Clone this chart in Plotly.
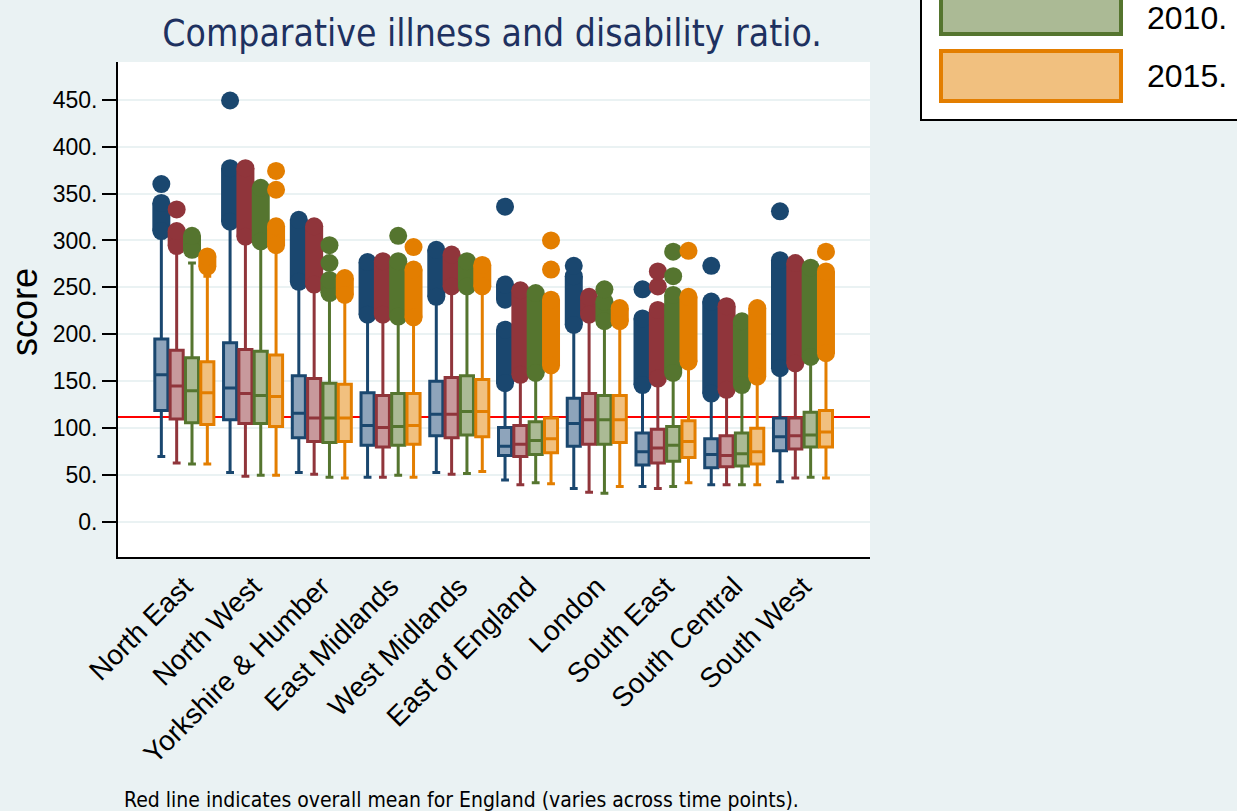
import plotly.graph_objects as go

# ---------------- data ----------------
regions = ["North East", "North West", "Yorkshire & Humber", "East Midlands",
           "West Midlands", "East of England", "London", "South East",
           "South Central", "South West"]

series_names = ["Series 1", "Series 2", "2010", "2015"]

# series 1 (navy)
s1_lower = [70, 53, 53, 48, 53, 45, 36, 38, 40, 43]
s1_q1 = [119, 109, 90, 82, 92, 71, 81, 61, 58, 76]
s1_median = [157, 143, 116, 103, 115, 81, 105, 75, 72, 91]
s1_q3 = [195, 191, 156, 138, 150, 101, 132, 95, 89, 111]
s1_upper = [303, 315, 250, 215, 235, 142, 205, 140, 132, 158]
s1_clusters = [[(310, 340)], [(320, 377)], [(256, 322)], [(221, 277)], [(240, 290)],
               [(148, 205), (237, 253)], [(210, 262)], [(146, 217)], [(137, 235)], [(164, 279)]]
s1_isolated = [[360], [449], [], [], [], [336], [273], [248], [273], [331]]

# series 2 (maroon)
s2_lower = [63, 49, 51, 48, 51, 40, 32, 36, 40, 47]
s2_q1 = [110, 105, 86, 80, 90, 70, 83, 63, 59, 78]
s2_median = [145, 137, 111, 101, 115, 83, 109, 79, 71, 92]
s2_q3 = [183, 184, 153, 135, 154, 103, 137, 99, 92, 111]
s2_upper = [288, 298, 248, 216, 246, 152, 216, 148, 136, 164]
s2_clusters = [[(294, 310)], [(304, 377)], [(253, 315)], [(221, 278)], [(251, 285)],
               [(157, 247)], [(221, 240)], [(153, 226)], [(141, 230)], [(169, 276)]]
s2_isolated = [[333], [], [], [], [], [], [], [251, 267], [], []]

# 2010 (green)
s3_lower = [62, 50, 48, 50, 52, 42, 31, 38, 40, 48]
s3_q1 = [106, 105, 85, 82, 93, 72, 83, 65, 60, 80]
s3_median = [140, 135, 111, 102, 118, 87, 109, 82, 73, 93]
s3_q3 = [175, 182, 148, 137, 156, 107, 135, 102, 95, 117]
s3_upper = [276, 294, 238, 214, 246, 154, 209, 154, 141, 171]
s3_clusters = [[(290, 305)], [(299, 356)], [(244, 258)], [(219, 278)], [(251, 278)],
               [(159, 244)], [(214, 235)], [(159, 242)], [(146, 214)], [(176, 271)]]
s3_isolated = [[], [], [276, 295], [305], [], [], [248], [262, 288], [], []]

# 2015 (orange)
s4_lower = [62, 50, 47, 48, 54, 41, 38, 42, 40, 47]
s4_q1 = [104, 102, 86, 83, 91, 74, 85, 69, 62, 80]
s4_median = [138, 134, 111, 103, 118, 89, 109, 86, 75, 96]
s4_q3 = [171, 178, 147, 137, 152, 111, 135, 108, 100, 119]
s4_upper = [262, 290, 237, 213, 246, 162, 209, 166, 150, 175]
s4_clusters = [[(272, 283)], [(295, 315)], [(242, 260)], [(218, 269)], [(251, 274)],
               [(167, 237)], [(214, 228)], [(171, 240)], [(155, 228)], [(180, 267)]]
s4_isolated = [[], [354, 374], [], [293], [], [269, 300], [], [289], [], [288]]

england_mean = 112

y_ticks = [0, 50, 100, 150, 200, 250, 300, 350, 400, 450]
y_ticktext = ["0.", "50.", "100.", "150.", "200.", "250.", "300.", "350.", "400.", "450."]

# ---------------- style ----------------
line_colors = ["#1a476f", "#90353b", "#55752f", "#e37e00"]
fill_colors = ["#8ea4bb", "#c8999c", "#abba95", "#f1c07f"]
BG = "#eaf2f3"
SLOT = 0.223
BOXW = 0.19
DOT = 18
SANS = "Liberation Sans, Arial, sans-serif"
NARROW = "Liberation Sans Narrow, DejaVu Sans Condensed, sans-serif"

series = [
    (s1_lower, s1_q1, s1_median, s1_q3, s1_upper, s1_clusters, s1_isolated),
    (s2_lower, s2_q1, s2_median, s2_q3, s2_upper, s2_clusters, s2_isolated),
    (s3_lower, s3_q1, s3_median, s3_q3, s3_upper, s3_clusters, s3_isolated),
    (s4_lower, s4_q1, s4_median, s4_q3, s4_upper, s4_clusters, s4_isolated),
]

fig = go.Figure()
group_pos = list(range(1, len(regions) + 1))

for i, (lo, q1, med, q3, up, clusters, isolated) in enumerate(series):
    off = (i - 1.5) * SLOT
    xs = [g + off for g in group_pos]
    fig.add_trace(go.Box(
        x=xs, q1=q1, median=med, q3=q3, lowerfence=lo, upperfence=up,
        width=BOXW, whiskerwidth=0.6, name=series_names[i],
        line=dict(color=line_colors[i], width=3),
        fillcolor=fill_colors[i], boxpoints=False, showlegend=False,
    ))
    cx, cy = [], []
    for x, segs in zip(xs, clusters):
        for a, b in segs:
            cx += [x, x, None]
            cy += [a, b, None]
    fig.add_trace(go.Scatter(
        x=cx, y=cy, mode="lines+markers",
        line=dict(color=line_colors[i], width=DOT),
        marker=dict(color=line_colors[i], size=DOT),
        showlegend=False, hoverinfo="skip",
    ))
    ix, iy = [], []
    for x, pts in zip(xs, isolated):
        for p in pts:
            ix.append(x)
            iy.append(p)
    fig.add_trace(go.Scatter(
        x=ix, y=iy, mode="markers",
        marker=dict(color=line_colors[i], size=DOT),
        showlegend=False, name=series_names[i],
    ))

fig.add_shape(type="line", xref="paper", x0=0, x1=1, yref="y",
              y0=england_mean, y1=england_mean,
              line=dict(color="#ff0000", width=2), layer="between")

W, H = 1237, 811
L, R, T, B = 118, 870, 62, 557
def px(x):
    return (x - L) / (R - L)
def py(y):
    return (B - y) / (B - T)

fig.add_shape(type="rect", xref="paper", yref="paper",
              x0=px(921), x1=px(1245), y0=py(120), y1=py(-10),
              fillcolor="white", line=dict(color="black", width=2), layer="above")
legend_items = [("2010.", 2, -20, 34, 18), ("2015.", 3, 51, 101, 76)]
for label, idx, ytop, ybot, ytext in legend_items:
    fig.add_shape(type="rect", xref="paper", yref="paper",
                  x0=px(941), x1=px(1121), y0=py(ybot), y1=py(ytop),
                  fillcolor=fill_colors[idx], line=dict(color=line_colors[idx], width=4),
                  layer="above")
    fig.add_annotation(text=label, xref="paper", yref="paper", x=px(1145), y=py(ytext),
                       xanchor="left", yanchor="middle", showarrow=False,
                       font=dict(family=SANS, size=32, color="black"))

fig.add_annotation(text="score", xref="paper", yref="paper", x=px(24), y=py(312),
                   textangle=-90, showarrow=False, xanchor="center", yanchor="middle",
                   font=dict(family=SANS, size=36, color="black"))

fig.add_annotation(text="Red line indicates overall mean for England (varies across time points).",
                   xref="paper", yref="paper", x=px(122), y=py(800),
                   xanchor="left", yanchor="middle", showarrow=False,
                   font=dict(family=NARROW, size=21, color="black"))

fig.update_layout(
    width=W, height=H, autosize=False,
    margin=dict(l=L, r=W - R, t=T, b=H - B),
    paper_bgcolor=BG, plot_bgcolor="white",
    boxmode="overlay", showlegend=False,
    title=dict(text="Comparative illness and disability ratio.",
               x=px(492), xref="paper", xanchor="center",
               y=1 - 33 / H, yref="container", yanchor="middle",
               font=dict(family=NARROW, size=37, color="#1e3160")),
    xaxis=dict(range=[0.035, 10.975], tickvals=group_pos, ticktext=regions,
               tickangle=-45, showgrid=False, zeroline=False,
               showline=True, linecolor="black", linewidth=2, ticks="",
               tickfont=dict(family=SANS, size=28, color="black")),
    yaxis=dict(range=[-37, 490], tickvals=y_ticks, ticktext=y_ticktext,
               showgrid=True, gridcolor=BG, gridwidth=2, zeroline=False,
               showline=True, linecolor="black", linewidth=2,
               ticks="outside", ticklen=14, tickwidth=2, tickcolor="black",
               tickfont=dict(family=SANS, size=23, color="black")),
)

fig.write_html("out.html", config={"displayModeBar": False},
               post_script="document.body.style.margin='0';document.body.style.overflow='hidden';")
